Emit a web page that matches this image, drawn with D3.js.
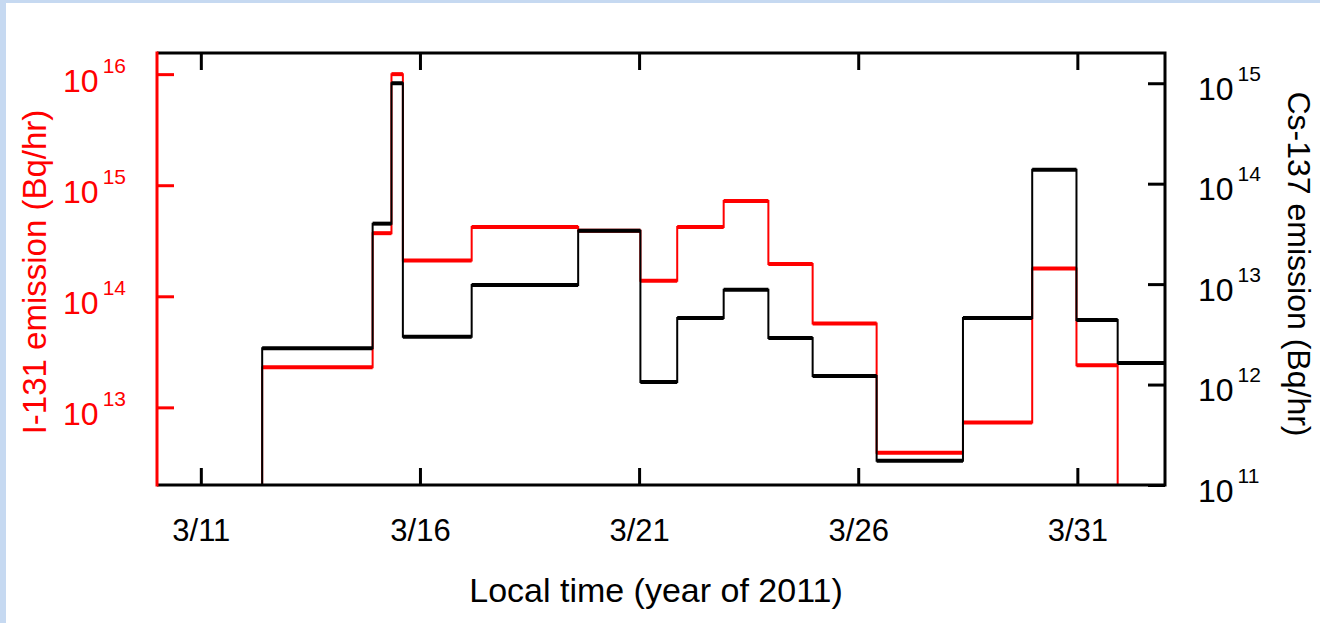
<!DOCTYPE html>
<html>
<head>
<meta charset="utf-8">
<script src="https://cdn.jsdelivr.net/npm/d3@7"></script>
<style>
  html, body { margin: 0; padding: 0; background: #fff; }
  svg { display: block; font-family: "Liberation Sans", Arial, sans-serif; }
</style>
</head>
<body>
<div id="chart"></div>
<script>
// release periods, day of March 2011 (step starts), last period ends at 4/2
const stepDays = [12.4, 14.92, 15.35, 15.61, 17.18, 19.61, 21.03, 21.87, 22.93, 23.95, 24.96, 26.42, 28.39, 29.97, 30.98, 31.92];
const stepEnd = 33;

// I-131 emission (Bq/hr), left axis; null = falls off the chart
const i131 = [2.3e13, 3.7e14, 1.0e16, 2.1e14, 4.2e14, 3.9e14, 1.38e14, 4.2e14, 7.2e14, 1.95e14, 5.7e13, 3.9e12, 7.3e12, 1.78e14, 2.4e13, null];

// Cs-137 emission (Bq/hr), right axis
const cs137 = [2.3e12, 4.0e13, 1.0e15, 3.0e12, 9.8e12, 3.4e13, 1.06e12, 4.6e12, 8.8e12, 2.9e12, 1.22e12, 1.74e11, 4.6e12, 1.38e14, 4.4e12, 1.64e12];

const xTickDays = [11, 16, 21, 26, 31];
const xTickLabels = ["3/11", "3/16", "3/21", "3/26", "3/31"];
const leftTicks = [1e13, 1e14, 1e15, 1e16];
const rightTicks = [1e11, 1e12, 1e13, 1e14, 1e15];

(function () {
  const W = 1320, H = 623;
  const margin = { top: 53, right: 155, bottom: 138, left: 157 };
  const width = W - margin.left - margin.right;
  const height = H - margin.top - margin.bottom;
  const red = "#ff0000";

  const svg = d3.select("#chart").append("svg").attr("width", W).attr("height", H);

  // slide frame
  svg.append("rect").attr("x", 0).attr("y", 0).attr("width", W).attr("height", 3).attr("fill", "#c6d9f1");
  svg.append("rect").attr("x", 0).attr("y", 0).attr("width", 6).attr("height", H).attr("fill", "#c6d9f1");

  const g = svg.append("g").attr("transform", `translate(${margin.left},${margin.top})`);

  const x = d3.scaleLinear().domain([10, 33]).range([0, width]);
  const yL = d3.scaleLog().domain([2e12, 1.55e16]).range([height, 0]);
  const yR = d3.scaleLog().domain([1e11, 2e15]).range([height, 0]);

  // step path points from the period arrays
  function stepPoints(vals) {
    const pts = [[stepDays[0], null]];
    vals.forEach((v, i) => {
      const end = i + 1 < stepDays.length ? stepDays[i + 1] : stepEnd;
      if (v == null) {
        pts.push([stepDays[i], null]);
        return;
      }
      pts.push([stepDays[i], v], [end, v]);
    });
    return pts;
  }

  function drawSeries(vals, y, color) {
    const line = d3.line()
      .x((d) => x(d[0]))
      .y((d) => (d[1] == null ? height : y(d[1])));
    g.append("path")
      .datum(stepPoints(vals))
      .attr("fill", "none")
      .attr("stroke", color)
      .attr("stroke-width", 2)
      .attr("d", line);
    // heavier horizontal runs (dense markers in the original)
    g.selectAll(null)
      .data(vals.map((v, i) => ({ v, a: stepDays[i], b: i + 1 < stepDays.length ? stepDays[i + 1] : stepEnd }))
        .filter((d) => d.v != null))
      .join("line")
      .attr("x1", (d) => x(d.a))
      .attr("x2", (d) => x(d.b))
      .attr("y1", (d) => y(d.v))
      .attr("y2", (d) => y(d.v))
      .attr("stroke", color)
      .attr("stroke-width", 4);
  }

  drawSeries(i131, yL, red);
  drawSeries(cs137, yR, "#000");

  // ticks (inward)
  const tickLen = 17;
  const styleAxis = (sel, color) => {
    sel.select(".domain").remove();
    sel.selectAll(".tick line").attr("stroke", color).attr("stroke-width", 3);
  };

  g.append("g")
    .attr("transform", `translate(0,${height})`)
    .call(d3.axisBottom(x).tickValues(xTickDays).tickSize(-tickLen).tickFormat((d, i) => xTickLabels[i]))
    .call((s) => styleAxis(s, "#000"))
    .call((s) => s.selectAll(".tick text")
      .attr("y", 56).attr("dy", 0)
      .attr("font-size", 31).attr("fill", "#000"));

  g.append("g")
    .call(d3.axisTop(x).tickValues(xTickDays).tickSize(-tickLen).tickFormat(""))
    .call((s) => styleAxis(s, "#000"));

  const sup = (text, supDy) => {
    text.text("10").attr("font-size", 32);
    text.append("tspan")
      .attr("dx", 4)
      .attr("dy", supDy)
      .attr("font-size", 21)
      .text((d) => Math.round(Math.log10(d)));
  };

  g.append("g")
    .call(d3.axisLeft(yL).tickValues(leftTicks).tickSize(-tickLen).tickPadding(31).tickFormat(""))
    .call((s) => styleAxis(s, red))
    .call((s) => s.selectAll(".tick text")
      .attr("dy", 0).attr("y", 17).attr("fill", red)
      .each(function () { sup(d3.select(this), -19); }));

  g.append("g")
    .attr("transform", `translate(${width},0)`)
    .call(d3.axisRight(yR).tickValues(rightTicks).tickSize(-tickLen).tickPadding(33).tickFormat(""))
    .call((s) => styleAxis(s, "#000"))
    .call((s) => s.selectAll(".tick text")
      .attr("dy", 0).attr("y", 16).attr("fill", "#000")
      .each(function () { sup(d3.select(this), -19); }));

  // frame
  g.append("path")
    .attr("d", `M0,0H${width}V${height}H0`)
    .attr("fill", "none")
    .attr("stroke", "#000")
    .attr("stroke-width", 3);
  g.append("line")
    .attr("x1", 0).attr("x2", 0).attr("y1", -1.5).attr("y2", height + 1.5)
    .attr("stroke", red).attr("stroke-width", 3);

  // axis titles
  svg.append("text")
    .attr("x", 656).attr("y", 602)
    .attr("text-anchor", "middle")
    .attr("font-size", 34)
    .attr("fill", "#000")
    .text("Local time (year of 2011)");

  svg.append("text")
    .attr("transform", "translate(46,272) rotate(-90)")
    .attr("text-anchor", "middle")
    .attr("font-size", 33)
    .attr("fill", red)
    .text("I-131 emission (Bq/hr)");

  svg.append("text")
    .attr("transform", "translate(1288,264) rotate(90)")
    .attr("text-anchor", "middle")
    .attr("font-size", 32)
    .attr("fill", "#000")
    .text("Cs-137 emission (Bq/hr)");
})();
</script>
</body>
</html>
